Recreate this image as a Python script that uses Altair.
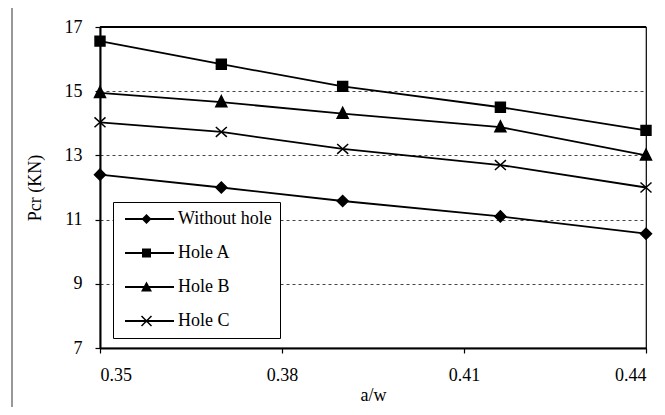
import altair as alt
import pandas as pd

# ---- data ----
aw = [0.35, 0.37, 0.39, 0.416, 0.44]
without_hole = [12.40, 12.00, 11.58, 11.10, 10.56]
hole_a = [16.56, 15.84, 15.15, 14.50, 13.78]
hole_b = [14.95, 14.66, 14.30, 13.88, 13.00]
hole_c = [14.03, 13.73, 13.20, 12.70, 12.00]
series_names = ["Without hole", "Hole A", "Hole B", "Hole C"]
x_ticks = [0.35, 0.38, 0.41, 0.44]
y_ticks = [7, 9, 11, 13, 15, 17]

rows = []
for name, vals in zip(series_names, [without_hole, hole_a, hole_b, hole_c]):
    for xv, yv in zip(aw, vals):
        rows.append({"aw": xv, "pcr": yv, "series": name, "leg": name})
df = pd.DataFrame(rows)

# marker shapes (unit box) for the data points
marker_paths = [
    "M0,-1L1,0L0,1L-1,0Z",
    "M-0.9,-0.9H0.9V0.9H-0.9Z",
    "M0,-1.15L1,0.85H-1Z",
    "M-1,-0.9L1,0.9M-1,0.9L1,-0.9",
]
# legend symbols: a filled line segment with the marker on it (all filled shapes)
LINE = "M-1,-0.18H8.8V0.18H-1Z"
legend_paths = [
    LINE + "M3.3,-1L4.3,0L3.3,1L2.3,0Z",
    LINE + "M2.4,-0.9H4.2V0.9H2.4Z",
    LINE + "M3.3,-1.1L4.4,0.9H2.2Z",
    LINE
    + "M2.406,-1.106L4.406,0.894L4.194,1.106L2.194,-0.894Z"
    + "M2.406,1.106L2.194,0.894L4.194,-1.106L4.406,-0.894Z",
]

FONT = "Liberation Serif"

x_enc = alt.X(
    "aw:Q",
    scale=alt.Scale(domain=[0.35, 0.44], nice=False, zero=False),
    axis=alt.Axis(
        values=x_ticks, format=".2f", title="a/w", grid=False,
        tickSize=5, labelPadding=13, titlePadding=2,
        labelFont=FONT, titleFont=FONT,
    ),
)
y_enc = alt.Y(
    "pcr:Q",
    scale=alt.Scale(domain=[7, 17], nice=False, zero=False),
    axis=alt.Axis(
        values=y_ticks, title="Pcr (KN)", grid=True,
        gridDash=[3, 3], gridColor="#444", gridWidth=1,
        tickSize=5, labelPadding=13, titlePadding=20,
        labelFont=FONT, titleFont=FONT,
    ),
)

base = alt.Chart(df)

lines = base.mark_line(color="black", strokeWidth=1.8).encode(
    x=x_enc, y=y_enc, detail="series:N"
)

points = base.mark_point(
    filled=True, color="black", fill="black", stroke="black", strokeWidth=1.5, size=121, opacity=1
).encode(
    x="aw:Q",
    y="pcr:Q",
    shape=alt.Shape(
        "series:N",
        scale=alt.Scale(domain=series_names, range=marker_paths),
        legend=None,
    ),
)

legend_layer = base.mark_point(
    filled=True, color="black", opacity=0
).encode(
    x="aw:Q",
    y="pcr:Q",
    shape=alt.Shape(
        "leg:N",
        scale=alt.Scale(domain=series_names, range=legend_paths),
        legend=alt.Legend(
            title=None,
            orient="none",
            legendX=13,
            legendY=175,
            padding=8,
            rowPadding=16,
            symbolSize=100,
            symbolOpacity=1,
            symbolFillColor="black",
            symbolStrokeWidth=0,
            labelOffset=39,
            labelFont=FONT,
            labelFontSize=18,
            labelColor="black",
            strokeColor="black",
            fillColor="white",
        ),
    ),
)

frame_data = pd.DataFrame({"a": [0]})
frame_left = alt.Chart(frame_data).mark_rule(color="#333", strokeWidth=1).encode(
    x=alt.value(-88), y=alt.value(-20), y2=alt.value(420)
)
frame_top = alt.Chart(frame_data).mark_rule(color="#333", strokeWidth=1).encode(
    x=alt.value(-88), x2=alt.value(700), y=alt.value(-20)
)
plot_top = alt.Chart(frame_data).mark_rule(color="black", strokeWidth=2).encode(
    x=alt.value(0), x2=alt.value(546), y=alt.value(0)
)

chart = (
    alt.layer(frame_left, frame_top, plot_top, lines, points, legend_layer)
    .resolve_scale(shape="independent")
    .properties(
        width=546,
        height=321,
        autosize=alt.AutoSizeParams(type="none"),
        padding={"left": 92, "top": 19, "right": 11, "bottom": 59},
        background="white",
    )
    .configure(font=FONT)
    .configure_view(stroke="black", strokeWidth=1.2)
    .configure_axis(
        labelFont=FONT, labelFontSize=18, labelColor="black",
        titleFont=FONT, titleFontSize=18, titleFontWeight="normal", titleColor="black",
        domainColor="black", domainWidth=2, tickColor="black", tickWidth=1.2,
    )
)

chart.save("out.html", embed_options={"renderer": "svg", "actions": False})
